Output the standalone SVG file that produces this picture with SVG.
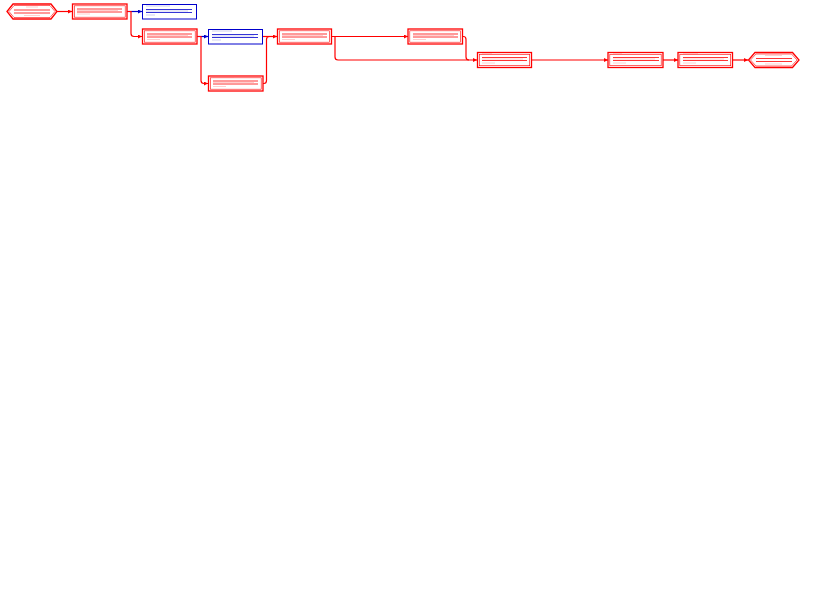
<svg xmlns="http://www.w3.org/2000/svg" width="837" height="598" viewBox="0 0 837 598">
<defs>
<style>
.bg{fill:#fff}
.cr{fill:none;stroke:#f00;stroke-width:1.3}
.cri{fill:none;stroke:#f00;stroke-width:0.6}
.nc{fill:none;stroke:#00c;stroke-width:1}
.lr{stroke:#f00;stroke-width:0.8}
.lb{stroke:#00c;stroke-width:0.8}
.tr{stroke:#f66;stroke-width:0.7;stroke-opacity:0.45}
.tb{stroke:#66c;stroke-width:0.7;stroke-opacity:0.45}
.cn{fill:none;stroke:#f00;stroke-width:1.2}
.cb{fill:none;stroke:#00c;stroke-width:1.2}
</style>
<marker id="ar" viewBox="0 0 6 6" refX="6" refY="3" markerWidth="4" markerHeight="4" orient="auto" markerUnits="userSpaceOnUse"><path d="M0,0 L6,3 L0,6 Z" fill="#f00"/></marker>
<marker id="ab" viewBox="0 0 6 6" refX="6" refY="3" markerWidth="4" markerHeight="4" orient="auto" markerUnits="userSpaceOnUse"><path d="M0,0 L6,3 L0,6 Z" fill="#00c"/></marker>
</defs>
<rect class="bg" x="0" y="0" width="837" height="598"/>
<g id="connectors">
<path class="cn" d="M57,11.5 H72" marker-end="url(#ar)"/>
<path class="cb" d="M127,11.5 H142" marker-end="url(#ab)"/>
<path class="cn" d="M127,11.5 H131 V33.5 Q131,36.5 134,36.5 H142" marker-end="url(#ar)"/>
<path class="cb" d="M197,36.5 H208" marker-end="url(#ab)"/>
<path class="cn" d="M197,36.5 H201 V80.5 Q201,83.5 204,83.5 H208" marker-end="url(#ar)"/>
<path class="cn" d="M262.5,36.5 H277" marker-end="url(#ar)"/>
<path class="cn" d="M263,83.5 H264 Q266.5,83.5 266.5,80.5 V39.5 Q266.5,36.5 269.5,36.5"/>
<path class="cn" d="M331.5,36.5 H408" marker-end="url(#ar)"/>
<path class="cn" d="M331.5,36.5 H335 V57 Q335,60 338,60 H477" marker-end="url(#ar)"/>
<path class="cn" d="M462.5,36.5 H463.5 Q466,36.5 466,39.5 V57 Q466,60 469,60"/>
<path class="cn" d="M531.5,60 H608" marker-end="url(#ar)"/>
<path class="cn" d="M663,60 H678" marker-end="url(#ar)"/>
<path class="cn" d="M732.5,60 H748" marker-end="url(#ar)"/>
</g>
<g id="n1">
<polygon class="cr" points="7,11.5 13,4 51,4 57,11.5 51,19 13,19"/>
<polygon class="cri" points="9,11.5 14,5.5 50,5.5 55,11.5 50,17.5 14,17.5"/>
<line class="tr" x1="26" y1="7" x2="38" y2="7"/>
<line class="lr" x1="14" y1="10" x2="50" y2="10"/>
<line class="lr" x1="14" y1="13" x2="50" y2="13"/>
<line class="tr" x1="24" y1="15.5" x2="40" y2="15.5"/>
</g>
<g id="n2">
<rect class="cr" x="72.5" y="4" width="54.5" height="15"/>
<rect class="cri" x="74.3" y="5.8" width="50.9" height="11.4"/>
<line class="tr" x1="77" y1="5.2" x2="100" y2="5.2"/>
<line class="lr" x1="77" y1="9" x2="122" y2="9"/>
<line class="tr" x1="77" y1="10.5" x2="118" y2="10.5"/>
<line class="lr" x1="77" y1="12" x2="122" y2="12"/>
<line class="tr" x1="77" y1="14" x2="90" y2="14"/>
</g>
<g id="n3">
<rect class="nc" x="142.5" y="4.5" width="54" height="14.5"/>
<line class="tb" x1="146" y1="6" x2="170" y2="6"/>
<line class="lb" x1="146" y1="9.5" x2="192" y2="9.5"/>
<line class="tb" x1="146" y1="11" x2="188" y2="11"/>
<line class="lb" x1="146" y1="12.5" x2="192" y2="12.5"/>
<line class="tb" x1="146" y1="15" x2="155" y2="15"/>
</g>
<g id="n4">
<rect class="cr" x="142.5" y="29" width="54.5" height="15"/>
<rect class="cri" x="144.3" y="30.8" width="50.9" height="11.4"/>
<line class="tr" x1="147" y1="30.2" x2="160" y2="30.2"/>
<line class="lr" x1="147" y1="34" x2="192" y2="34"/>
<line class="tr" x1="147" y1="35.5" x2="188" y2="35.5"/>
<line class="lr" x1="147" y1="37" x2="192" y2="37"/>
<line class="tr" x1="147" y1="39.5" x2="160" y2="39.5"/>
</g>
<g id="n5">
<rect class="nc" x="208.5" y="29.5" width="54" height="14.5"/>
<line class="tb" x1="212" y1="31" x2="232" y2="31"/>
<line class="lb" x1="212" y1="34.5" x2="258" y2="34.5"/>
<line class="tb" x1="212" y1="36" x2="254" y2="36"/>
<line class="lb" x1="212" y1="37.5" x2="258" y2="37.5"/>
<line class="tb" x1="212" y1="40" x2="221" y2="40"/>
</g>
<g id="n6">
<rect class="cr" x="208.5" y="76" width="54.5" height="15"/>
<rect class="cri" x="210.3" y="77.8" width="50.9" height="11.4"/>
<line class="tr" x1="213" y1="77.2" x2="234" y2="77.2"/>
<line class="lr" x1="213" y1="81" x2="258" y2="81"/>
<line class="tr" x1="213" y1="82.5" x2="254" y2="82.5"/>
<line class="lr" x1="213" y1="84" x2="258" y2="84"/>
<line class="tr" x1="213" y1="86.5" x2="226" y2="86.5"/>
</g>
<g id="n7">
<rect class="cr" x="277.5" y="29" width="54" height="15"/>
<rect class="cri" x="279.3" y="30.8" width="50.4" height="11.4"/>
<line class="tr" x1="282" y1="30.2" x2="292" y2="30.2"/>
<line class="lr" x1="282" y1="34" x2="327" y2="34"/>
<line class="tr" x1="282" y1="35.5" x2="323" y2="35.5"/>
<line class="lr" x1="282" y1="37" x2="327" y2="37"/>
<line class="tr" x1="282" y1="39.5" x2="295" y2="39.5"/>
</g>
<g id="n8">
<rect class="cr" x="408" y="29" width="54.5" height="15"/>
<rect class="cri" x="409.8" y="30.8" width="50.9" height="11.4"/>
<line class="tr" x1="413" y1="30.2" x2="432" y2="30.2"/>
<line class="lr" x1="413" y1="34" x2="458" y2="34"/>
<line class="tr" x1="413" y1="35.5" x2="454" y2="35.5"/>
<line class="lr" x1="413" y1="37" x2="458" y2="37"/>
<line class="tr" x1="413" y1="39.5" x2="426" y2="39.5"/>
</g>
<g id="n9">
<rect class="cr" x="477.5" y="52.5" width="54" height="15"/>
<rect class="cri" x="479.3" y="54.3" width="50.4" height="11.4"/>
<line class="tr" x1="482" y1="53.7" x2="492" y2="53.7"/>
<line class="lr" x1="482" y1="57.5" x2="527" y2="57.5"/>
<line class="tr" x1="482" y1="59" x2="523" y2="59"/>
<line class="lr" x1="482" y1="60.5" x2="527" y2="60.5"/>
<line class="tr" x1="482" y1="63" x2="495" y2="63"/>
</g>
<g id="n10">
<rect class="cr" x="608" y="52.5" width="55" height="15"/>
<rect class="cri" x="609.8" y="54.3" width="51.4" height="11.4"/>
<line class="tr" x1="613" y1="53.7" x2="622" y2="53.7"/>
<line class="lr" x1="613" y1="57.5" x2="659" y2="57.5"/>
<line class="tr" x1="613" y1="59" x2="655" y2="59"/>
<line class="lr" x1="613" y1="60.5" x2="659" y2="60.5"/>
<line class="tr" x1="613" y1="63" x2="626" y2="63"/>
</g>
<g id="n11">
<rect class="cr" x="678" y="52.5" width="54.5" height="15"/>
<rect class="cri" x="679.8" y="54.3" width="50.9" height="11.4"/>
<line class="tr" x1="683" y1="53.7" x2="698" y2="53.7"/>
<line class="lr" x1="683" y1="57.5" x2="728" y2="57.5"/>
<line class="tr" x1="683" y1="59" x2="724" y2="59"/>
<line class="lr" x1="683" y1="60.5" x2="728" y2="60.5"/>
<line class="tr" x1="683" y1="63" x2="696" y2="63"/>
</g>
<g id="n12">
<polygon class="cr" points="748.5,60 755,52.5 792.5,52.5 799,60 792.5,67.5 755,67.5"/>
<polygon class="cri" points="750.5,60 756,54 791.5,54 797,60 791.5,66 756,66"/>
<line class="tr" x1="765" y1="55.5" x2="782" y2="55.5"/>
<line class="lr" x1="756" y1="58.5" x2="792" y2="58.5"/>
<line class="lr" x1="756" y1="61.5" x2="792" y2="61.5"/>
<line class="tr" x1="765" y1="64" x2="782" y2="64"/>
</g>
</svg>
